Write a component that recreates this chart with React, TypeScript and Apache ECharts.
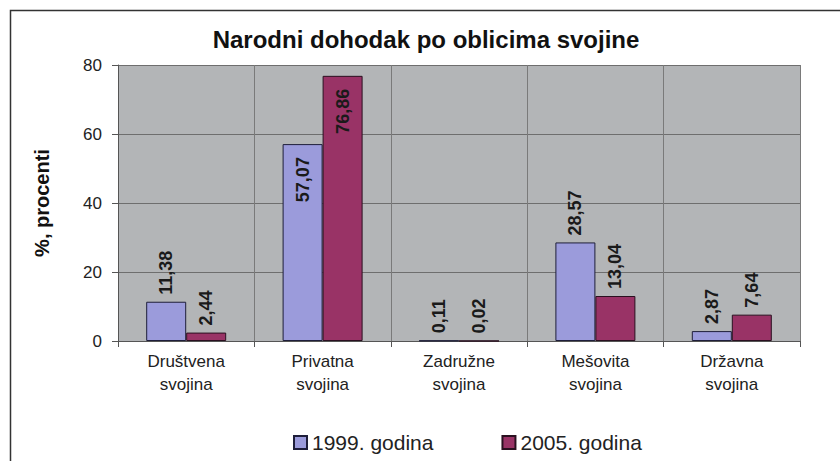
import React, { useEffect, useRef } from "react";
import * as echarts from "echarts";

const categories = ["Društvena\nsvojina", "Privatna\nsvojina", "Zadružne\nsvojina", "Mešovita\nsvojina", "Državna\nsvojina"];
const values1999 = [11.38, 57.07, 0.11, 28.57, 2.87];
const values2005 = [2.44, 76.86, 0.02, 13.04, 7.64];
const seriesNames = ["1999. godina", "2005. godina"];
const yTicks = { min: 0, max: 80, interval: 20 };
const insideThreshold = 50;

const fmt = (v: number) => v.toFixed(2).replace(".", ",");

function makeData(vals: number[]) {
  return vals.map((v) => {
    if (v > insideThreshold) {
      return {
        value: v,
        label: { position: "insideTop", align: "right", distance: 13 },
      };
    }
    return { value: v };
  });
}

export default function App() {
  const ref = useRef<HTMLDivElement>(null);
  useEffect(() => {
    if (!ref.current) return;
    const chart = echarts.init(ref.current, null, { renderer: "svg" });
    const labelBase = {
      show: true,
      position: "top",
      rotate: 90,
      align: "left",
      verticalAlign: "middle",
      distance: 7,
      fontFamily: "Liberation Sans, Arial, sans-serif",
      fontSize: 18,
      fontWeight: "bold",
      color: "#1a1a1a",
      formatter: (p: any) => fmt(p.value),
    };
    chart.setOption({
      animation: false,
      backgroundColor: "#ffffff",
      title: {
        text: "Narodni dohodak po oblicima svojine",
        left: 421,
        textAlign: "center",
        top: 22,
        textStyle: {
          fontFamily: "Liberation Sans, Arial, sans-serif",
          fontSize: 24,
          fontWeight: "bold",
          color: "#111",
        },
      },
      graphic: [
        {
          type: "rect",
          shape: { x: 10.5, y: 10.5, width: 840, height: 460 },
          style: { fill: "none", stroke: "#333", lineWidth: 1.5 },
          silent: true,
        },
      ],
      legend: {
        left: 288,
        top: 427,
        itemWidth: 13,
        itemHeight: 13,
        itemGap: 68,
        icon: "rect",
        textStyle: {
          fontFamily: "Liberation Sans, Arial, sans-serif",
          fontSize: 21,
          color: "#222",
        },
        data: seriesNames,
      },
      grid: { left: 118, right: 40, top: 65, bottom: 120 },
      xAxis: {
        type: "category",
        data: categories,
        axisLine: { show: true, lineStyle: { color: "#555", width: 1 } },
        axisTick: { show: true, length: 6, lineStyle: { color: "#555" } },
        splitLine: { show: true, interval: 0, lineStyle: { color: "#7a7a7a", width: 1 } },
        axisLabel: {
          margin: 9,
          fontFamily: "Liberation Sans, Arial, sans-serif",
          fontSize: 17,
          lineHeight: 23,
          color: "#222",
          interval: 0,
        },
      },
      yAxis: {
        type: "value",
        min: yTicks.min,
        max: yTicks.max,
        interval: yTicks.interval,
        name: "%, procenti",
        nameLocation: "middle",
        nameGap: 66,
        nameTextStyle: {
          fontFamily: "Liberation Sans, Arial, sans-serif",
          fontSize: 20,
          fontWeight: "bold",
          color: "#111",
        },
        axisLine: { show: true, lineStyle: { color: "#555" } },
        axisTick: { show: true, length: 6, lineStyle: { color: "#555" } },
        splitLine: { show: true, lineStyle: { color: "#6e6e6e", width: 1 } },
        splitArea: { show: true, areaStyle: { color: ["#b3b5b7", "#b3b5b7"] } },
        axisLabel: {
          margin: 16,
          fontFamily: "Liberation Sans, Arial, sans-serif",
          fontSize: 17,
          color: "#222",
        },
      },
      series: [
        {
          name: seriesNames[0],
          type: "bar",
          data: makeData(values1999),
          barWidth: 40,
          barGap: "0%",
          itemStyle: { color: "#9b9bdb", borderColor: "#1e1e3a", borderWidth: 1 },
          label: labelBase,
        },
        {
          name: seriesNames[1],
          type: "bar",
          data: makeData(values2005),
          barWidth: 40,
          barGap: "0%",
          itemStyle: { color: "#993366", borderColor: "#2a1020", borderWidth: 1 },
          label: labelBase,
        },
      ],
    });
    return () => chart.dispose();
  }, []);
  return <div ref={ref} style={{ width: 840, height: 461, position: "absolute", left: 0, top: 0 }} />;
}
